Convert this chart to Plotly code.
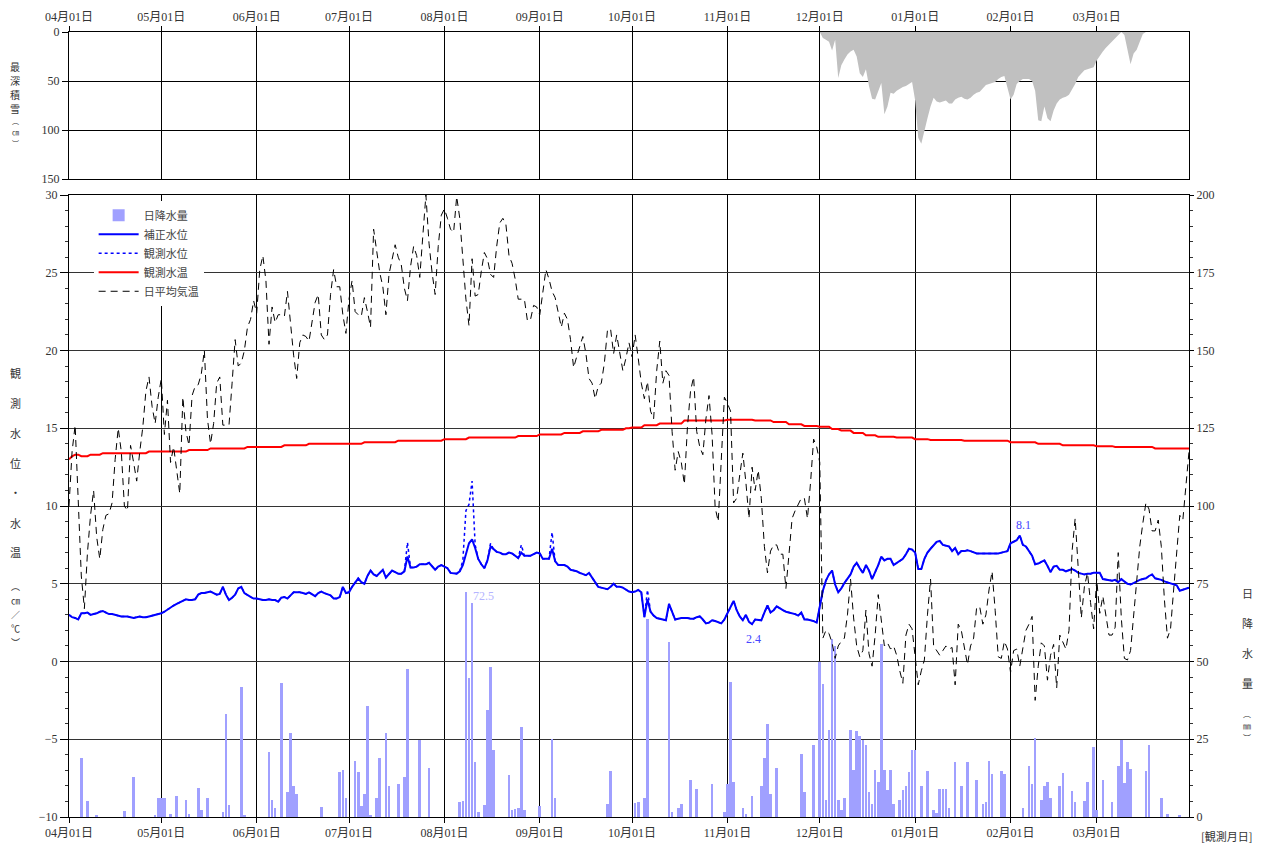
import pandas as pd
import plotly.graph_objects as go

START = "2021-04-01"
END = "2022-03-31"

# ---------------- daily mean air temperature (°C), Apr..Mar ----------------
air_temp = (
    # Apr
    [10.0, 13.5, 15.2, 10.0, 5.5, 3.4, 7.0, 9.4, 11.0, 8.0, 6.6, 8.5, 9.4, 9.5, 10.2,
     13.0, 15.0, 13.5, 10.0, 9.7, 13.9, 12.8, 11.6, 13.5, 15.1, 17.4, 18.3, 16.4, 15.3, 17.0]
    # May
    + [18.2, 14.6, 16.8, 12.8, 13.8, 12.3, 10.8, 17.0, 14.8, 13.9, 17.1, 17.7, 17.8, 18.5, 20.0,
       15.6, 14.0, 15.3, 17.9, 18.3, 15.2, 15.2, 15.2, 17.9, 20.7, 19.0, 19.2, 20.0, 21.5, 22.0, 23.2]
    # Jun
    + [22.4, 25.2, 26.1, 24.5, 20.4, 22.8, 21.8, 22.3, 22.3, 22.2, 23.8, 21.5, 19.7, 18.2, 20.5,
       21.0, 20.9, 20.6, 21.8, 23.1, 23.6, 21.0, 20.7, 21.0, 23.6, 25.2, 24.1, 24.1, 22.3, 21.1]
    # Jul
    + [23.3, 24.5, 22.5, 22.3, 22.2, 23.4, 22.5, 21.5, 27.8, 26.4, 25.0, 24.1, 22.3, 24.9, 25.8,
       26.8, 26.0, 25.5, 24.0, 23.2, 25.4, 26.7, 26.1, 24.7, 27.4, 30.0, 26.9, 25.0, 23.6, 26.7, 28.7]
    # Aug
    + [29.1, 28.5, 27.8, 27.6, 29.9, 28.5, 26.1, 23.3, 21.6, 25.9, 23.5, 23.6, 25.1, 26.3, 25.9,
       24.9, 24.7, 26.7, 28.2, 28.5, 28.1, 26.1, 25.6, 24.6, 23.3, 23.3, 23.3, 21.9, 22.0, 22.9, 22.8]
    # Sep
    + [22.3, 23.7, 25.2, 24.6, 23.8, 23.4, 22.5, 21.5, 22.4, 22.0, 20.7, 18.9, 19.6, 20.2, 20.9,
       19.8, 18.2, 17.9, 16.9, 17.7, 17.9, 19.2, 21.3, 21.4, 19.8, 21.0, 19.7, 18.7, 19.5, 20.5]
    # Oct
    + [19.6, 21.0, 19.5, 17.9, 16.9, 18.0, 16.1, 15.6, 18.7, 20.6, 17.9, 18.7, 18.4, 14.8, 12.3,
       13.5, 12.8, 11.4, 15.1, 17.4, 18.3, 14.8, 13.8, 13.3, 15.6, 17.1, 14.6, 9.9, 9.0, 13.3, 17.0]
    # Nov
    + [16.6, 16.1, 10.2, 10.5, 12.0, 13.4, 11.5, 9.2, 12.5, 11.0, 12.3, 10.5, 7.4, 5.7, 7.1,
       7.5, 7.5, 6.9, 6.9, 4.7, 6.9, 9.2, 9.7, 10.1, 10.5, 10.5, 9.2, 11.5, 14.3, 13.8]
    # Dec
    + [12.8, 1.5, 2.0, 1.8, 1.2, 0.2, 1.0, 1.3, 1.5, 3.0, 5.3, 2.8, 1.0, 0.3, 0.7,
       3.3, 0.5, -0.3, 1.7, 4.3, 2.8, 1.0, 1.2, 0.8, 1.0, 0.4, -0.6, -1.4, 1.7, 2.4, 2.1]
    # Jan
    + [0.2, -1.5, -0.6, 0.1, 3.0, 5.3, 1.0, 0.7, 0.4, 0.7, 1.0, 0.8, 0.9, -1.5, 2.4,
       2.0, 1.0, -0.2, 1.0, 1.5, 3.5, 3.5, 2.4, 3.0, 4.6, 5.8, 3.3, 0.3, 0.2, 1.3, 0.8]
    # Feb
    + [-0.7, 0.7, 0.8, -0.3, 1.0, 2.0, 2.4, 2.9, -2.5, -0.3, 1.2, 1.0, -1.2, 0.4, 1.1,
       -1.7, 1.7, 1.3, 0.8, 2.0, 7.1, 9.2, 6.1, 2.8, 4.8, 5.7, 3.8, 2.1]
    # Mar
    + [5.3, 3.1, 4.2, 2.8, 1.7, 1.7, 2.2, 7.0, 2.8, 0.2, 0.1, 0.7, 3.0, 5.1, 7.4,
       8.9, 10.2, 9.8, 8.4, 8.4, 9.1, 7.4, 4.0, 1.5, 2.1, 4.6, 6.9, 9.4, 9.1, 11.6, 13.5]
)

# ---------------- corrected water level (cm) ----------------
level_corr = (
    [3.0, 2.85, 2.8, 2.7, 3.1, 3.1, 3.15, 3.0, 3.05, 3.1, 3.2, 3.25, 3.15, 3.05, 3.05,
     3.0, 2.95, 2.9, 2.9, 2.9, 2.85, 2.8, 2.85, 2.9, 2.85, 2.85, 2.9, 2.95, 3.0, 3.05]
    + [3.1, 3.2, 3.35, 3.45, 3.6, 3.7, 3.8, 3.95, 4.0, 3.95, 3.95, 4.0, 4.3, 4.4, 4.4,
       4.45, 4.5, 4.4, 4.3, 4.35, 4.8, 4.3, 3.95, 4.1, 4.3, 4.7, 4.8, 4.4, 4.25, 4.15, 4.05]
    + [4.05, 4.0, 3.95, 3.95, 4.0, 3.95, 3.95, 3.85, 4.1, 4.15, 4.05, 4.25, 4.45, 4.45, 4.45,
       4.4, 4.35, 4.45, 4.3, 4.2, 4.4, 4.5, 4.4, 4.3, 4.25, 4.05, 4.05, 4.15, 4.8, 4.4]
    + [4.45, 4.8, 5.1, 5.35, 5.1, 5.0, 5.5, 5.85, 5.6, 5.5, 5.7, 5.9, 5.4, 5.6, 5.85,
       5.75, 5.65, 5.65, 5.8, 6.75, 6.05, 6.05, 6.1, 6.25, 6.25, 6.25, 6.35, 6.1, 5.9, 6.1, 6.2]
    + [6.1, 6.0, 5.7, 5.65, 5.65, 5.8, 6.2, 6.9, 7.6, 7.85, 7.3, 6.6, 6.25, 6.0, 6.5,
       7.4, 7.2, 7.05, 7.0, 6.9, 6.9, 7.0, 6.95, 6.8, 6.65, 7.0, 6.8, 6.8, 6.8, 6.9, 7.0]
    + [6.95, 6.6, 6.6, 6.6, 7.25, 6.45, 6.2, 6.2, 6.2, 6.1, 5.9, 5.85, 5.8, 5.7, 5.6,
       5.55, 5.7, 5.4, 5.1, 4.8, 4.75, 4.7, 4.65, 4.8, 5.0, 4.8, 4.8, 4.75, 4.6, 4.5]
    + [4.45, 4.5, 4.6, 4.45, 2.85, 4.0, 3.2, 2.95, 2.8, 2.75, 2.7, 2.65, 3.7, 3.2, 2.7,
       2.75, 2.8, 2.8, 2.8, 2.75, 2.75, 2.85, 2.9, 2.7, 2.45, 2.5, 2.65, 2.6, 2.5, 2.45, 2.7]
    + [3.1, 3.6, 3.9, 3.3, 2.9, 2.65, 3.0, 2.55, 2.4, 2.7, 2.65, 2.65, 3.15, 3.6, 3.15,
       3.3, 3.55, 3.4, 3.3, 3.2, 3.15, 3.1, 3.05, 2.95, 3.15, 2.7, 2.7, 2.65, 2.6, 2.5]
    + [3.5, 4.55, 5.2, 5.6, 5.85, 4.95, 4.45, 4.7, 5.05, 5.3, 5.6, 6.1, 6.35, 6.0, 5.7,
       6.2, 5.85, 5.3, 5.7, 6.2, 6.75, 6.5, 6.6, 6.6, 6.2, 6.35, 6.5, 6.6, 6.9, 7.25, 7.2]
    + [7.0, 5.95, 5.95, 6.6, 7.0, 7.25, 7.45, 7.7, 7.75, 7.5, 7.45, 7.4, 7.1, 7.3, 6.9,
       7.1, 7.1, 7.15, 7.1, 7.0, 6.95, 6.95, 6.95, 6.95, 6.95, 6.95, 6.95, 6.95, 7.0, 7.05, 7.1]
    + [7.6, 7.7, 7.8, 8.1, 7.5, 7.4, 7.1, 6.8, 6.25, 6.3, 6.4, 6.5, 6.15, 5.75, 6.1,
       6.15, 5.9, 5.9, 5.8, 5.9, 5.95, 5.85, 5.7, 5.65, 5.6, 5.65, 5.65, 5.7]
    + [5.7, 5.7, 5.3, 5.25, 5.2, 5.2, 5.25, 5.1, 5.3, 5.15, 5.0, 4.95, 5.05, 5.2, 5.25,
       5.3, 5.35, 5.5, 5.6, 5.35, 5.3, 5.25, 5.15, 5.1, 5.0, 4.95, 4.9, 4.55, 4.6, 4.7, 4.75]
)

# observed water level differs from the corrected one only on these days
obs_level_dates = ["2021-07-20", "2021-08-07", "2021-08-08", "2021-08-09", "2021-08-10",
                   "2021-08-11", "2021-08-16", "2021-08-26", "2021-09-05", "2021-10-06"]
obs_level_values = [7.65, 6.5, 9.7, 10.1, 11.6, 7.5, 7.6, 7.5, 8.3, 4.6]

# ---------------- observed water temperature (°C) ----------------
water_temp = (
    [13.0, 13.2, 13.3, 13.3, 13.2, 13.2, 13.2, 13.3, 13.3, 13.3, 13.3, 13.4, 13.4, 13.4, 13.4,
     13.4, 13.4, 13.4, 13.4, 13.4, 13.4, 13.4, 13.4, 13.4, 13.4, 13.4, 13.5, 13.5, 13.5, 13.5]
    + [13.5, 13.5, 13.5, 13.5, 13.5, 13.5, 13.5, 13.5, 13.5, 13.6, 13.6, 13.6, 13.6, 13.6, 13.6,
       13.6, 13.7, 13.7, 13.7, 13.7, 13.7, 13.7, 13.7, 13.7, 13.7, 13.7, 13.7, 13.7, 13.8, 13.8, 13.8]
    + [13.8, 13.8, 13.8, 13.8, 13.8, 13.8, 13.8, 13.8, 13.8, 13.9, 13.9, 13.9, 13.9, 13.9, 13.9,
       13.9, 13.9, 14.0, 14.0, 14.0, 14.0, 14.0, 14.0, 14.0, 14.0, 14.0, 14.0, 14.0, 14.0, 14.0]
    + [14.0, 14.0, 14.0, 14.0, 14.0, 14.1, 14.1, 14.1, 14.1, 14.1, 14.1, 14.1, 14.1, 14.1, 14.1,
       14.1, 14.2, 14.2, 14.2, 14.2, 14.2, 14.2, 14.2, 14.2, 14.2, 14.2, 14.2, 14.2, 14.2, 14.2, 14.2]
    + [14.3, 14.3, 14.3, 14.3, 14.3, 14.3, 14.3, 14.3, 14.4, 14.4, 14.4, 14.4, 14.4, 14.4, 14.4,
       14.4, 14.4, 14.4, 14.4, 14.4, 14.4, 14.4, 14.4, 14.4, 14.5, 14.5, 14.5, 14.5, 14.5, 14.5, 14.5]
    + [14.6, 14.6, 14.6, 14.6, 14.6, 14.6, 14.6, 14.6, 14.7, 14.7, 14.7, 14.7, 14.7, 14.7, 14.8,
       14.8, 14.8, 14.8, 14.8, 14.8, 14.9, 14.9, 14.9, 14.9, 14.9, 14.9, 14.9, 14.9, 15.0, 15.0]
    + [15.05, 15.05, 15.05, 15.05, 15.2, 15.2, 15.2, 15.2, 15.2, 15.3, 15.3, 15.3, 15.3, 15.3, 15.3,
       15.3, 15.3, 15.5, 15.5, 15.5, 15.5, 15.5, 15.5, 15.5, 15.5, 15.5, 15.5, 15.5, 15.5, 15.5, 15.5]
    + [15.55, 15.55, 15.55, 15.55, 15.55, 15.55, 15.55, 15.55, 15.55, 15.5, 15.5, 15.5, 15.5, 15.5, 15.5,
       15.4, 15.4, 15.4, 15.4, 15.4, 15.25, 15.25, 15.25, 15.25, 15.25, 15.15, 15.15, 15.15, 15.15, 15.15]
    + [15.1, 15.1, 15.1, 15.1, 14.95, 14.95, 14.95, 14.85, 14.85, 14.85, 14.85, 14.7, 14.7, 14.7, 14.7,
       14.55, 14.55, 14.55, 14.55, 14.45, 14.45, 14.45, 14.45, 14.45, 14.45, 14.4, 14.4, 14.4, 14.4, 14.4, 14.4]
    + [14.3, 14.3, 14.3, 14.3, 14.3, 14.25, 14.25, 14.25, 14.25, 14.25, 14.25, 14.25, 14.25, 14.25, 14.25,
       14.25, 14.2, 14.2, 14.2, 14.2, 14.2, 14.2, 14.2, 14.2, 14.2, 14.2, 14.2, 14.2, 14.2, 14.2, 14.2]
    + [14.1, 14.1, 14.1, 14.1, 14.1, 14.1, 14.1, 14.1, 14.1, 14.0, 14.0, 14.0, 14.0, 14.0, 14.0,
       14.0, 14.0, 13.9, 13.9, 13.9, 13.9, 13.9, 13.9, 13.9, 13.9, 13.9, 13.9, 13.9]
    + [13.85, 13.85, 13.85, 13.85, 13.85, 13.85, 13.8, 13.8, 13.8, 13.8, 13.8, 13.8, 13.8, 13.8, 13.8,
       13.8, 13.8, 13.8, 13.8, 13.7, 13.7, 13.7, 13.7, 13.7, 13.7, 13.7, 13.7, 13.7, 13.7, 13.7, 13.7]
)

# ---------------- daily precipitation (mm) ----------------
precip_mm = (
    [0, 0, 0, 0, 19, 0, 5, 0, 0, 0.7, 0, 0, 0, 0, 0, 0, 0, 0, 2, 0, 0, 12.8, 0, 0, 0, 0, 0, 0, 0.8, 6.2]
    + [6.2, 6, 0, 1, 0, 6.8, 0, 0, 5.5, 1, 0, 0, 9.4, 2.3, 0, 6.2, 0, 0, 0, 0,
       1.7, 33, 3.9, 0, 0, 0, 41.8, 0.4, 0, 0, 0]
    + [0, 0, 0, 0, 21, 5.5, 3, 0, 43, 0, 8, 27, 10, 7.4, 0, 0, 0, 0, 0, 0,
       0, 3.3, 0, 0, 0, 0, 0, 14.5, 15.1, 6.2]
    + [0, 0, 18, 14.5, 3.6, 7.4, 35.7, 0.4, 0, 6.2, 19, 0, 27, 10, 0, 0, 10.7, 0, 12.8, 47.5,
       0, 0, 0, 24.8, 0, 0, 15.8, 0, 0, 0, 0]
    + [0, 0, 0, 0, 0, 4.9, 5.1, 72.5, 44.7, 68.8, 17.7, 1.7, 0, 4, 34.4, 48.1, 21.6, 0, 0, 0,
       0, 13.6, 2.3, 2.5, 3, 28.9, 2.3, 0, 0, 0, 0]
    + [3.6, 0, 0, 0, 25, 6.2, 0, 0, 0, 0, 0, 0, 0, 0, 0, 0, 0, 0, 0, 0,
       0, 0, 4.2, 14.8, 0, 0, 0, 0, 0, 0]
    + [0, 4.5, 4.9, 0, 6.2, 63.7, 0, 0, 0, 0, 0, 0, 56.2, 1.7, 0, 3, 4.2, 0, 0, 12,
       0, 9, 0, 0, 0, 0, 10.7, 0, 0, 0, 1.7]
    + [10.7, 43.4, 11.3, 0, 0, 3, 1, 0, 6.8, 0, 0, 10, 19, 29.9, 7.4, 0, 15.8, 0, 0, 0,
       0, 0, 0, 0, 20.3, 8.1, 0, 0, 23.1, 0]
    + [50, 42.7, 5.5, 28, 57.3, 55, 5.5, 2.3, 6.2, 0, 28, 15.1, 27.6, 26.1, 24.8, 23.1, 8.1, 4.2, 15.1, 11.3,
       55.6, 15.1, 8.7, 15.1, 4.2, 0, 5.5, 8.7, 10, 14.5, 21.6]
    + [21.6, 0, 10, 0, 14.8, 0, 2.3, 1.3, 9, 9, 9, 3, 0, 17.7, 0, 10, 0, 17.7, 0, 0,
       12, 0, 4.2, 4.9, 18.1, 13.9, 0, 0, 14.8, 13.9, 0]
    + [0, 0, 0, 0, 3, 0, 16.4, 10.7, 25.4, 0, 5.5, 10, 11.3, 6.2, 0, 0, 10, 14.1, 0, 0,
       8.3, 4.9, 0, 0, 5.1, 11.3, 0, 22.6]
    + [2.3, 0, 12, 0, 0, 4.9, 0, 16.4, 24.8, 11, 17.7, 15.4, 0, 0, 0, 0, 14.8, 23.1, 0, 0,
       0, 6.2, 0, 1, 0, 0, 0, 0.6, 0, 0, 0]
)

# ---------------- maximum snow depth (cm), from Dec 1 ----------------
snow_start = "2021-12-01"
snow_cm = (
    [0, 6, 8, 10, 19, 8, 47, 34, 28, 23, 20, 18, 25, 42, 46, 38, 55, 68, 69, 60,
     52, 84, 76, 62, 63, 60, 58, 56, 55, 53, 51]
    + [70, 108, 114, 100, 88, 76, 67, 71, 72, 71, 70, 73, 73, 69, 67, 66, 68, 69, 67, 64,
       62, 61, 57, 54, 53, 52, 51, 48, 46, 45, 58]
    + [69, 64, 53, 50, 48, 48, 48, 50, 60, 90, 91, 76, 88, 91, 80, 73, 69, 67, 66, 64,
       59, 53, 46, 42, 39, 38, 37, 36]
    + [29, 24, 20, 16, 13, 10, 7, 4, 0, 3, 20, 33, 22, 18, 10, 2, 0]
)

left_title = ["観", "測", "水", "位", "・", "水", "温", "︵", "㎝", "／", "℃", "︶"]
top_title = ["最", "深", "積", "雪", "︵", "㎝", "︶"]
right_title = ["日", "降", "水", "量", "︵", "㎜", "︶"]
small_glyphs = {"︵", "︶", "㎝", "㎜", "／", "℃"}

# ------------------------------------------------------------------
dates = pd.date_range(START, periods=len(air_temp), freq="D")
snow_dates = pd.date_range(snow_start, periods=len(snow_cm), freq="D")
level_obs = pd.Series(level_corr, index=dates)
level_obs.loc[pd.to_datetime(obs_level_dates)] = obs_level_values

TICKFONT = dict(family="Liberation Serif, Noto Sans CJK JP", size=12, color="#333333")
CJK = "Noto Sans CJK JP"
DAY_MS = 86400000

fig = go.Figure()

# snow depth (top panel)
fig.add_trace(go.Scatter(
    x=snow_dates, y=snow_cm, mode="lines", fill="tozeroy",
    fillcolor="#c0c0c0", line=dict(width=0, color="#c0c0c0"),
    showlegend=False, xaxis="x", yaxis="y", hoverinfo="skip"))

# precipitation bars (right axis, base layer)
fig.add_trace(go.Bar(
    x=dates, y=precip_mm, name="日降水量", marker=dict(color="#a0a0ff", line=dict(width=0)),
    width=0.85 * DAY_MS, xaxis="x2", yaxis="y2", legendrank=1))

# lines (left axis, overlay)
fig.add_trace(go.Scatter(
    x=dates, y=level_obs.values, name="観測水位", mode="lines",
    line=dict(color="#0000ff", width=1.5, dash="dot"), xaxis="x2", yaxis="y3", legendrank=3))
fig.add_trace(go.Scatter(
    x=dates, y=level_corr, name="補正水位", mode="lines",
    line=dict(color="#0000ff", width=2), xaxis="x2", yaxis="y3", legendrank=2))
fig.add_trace(go.Scatter(
    x=dates, y=water_temp, name="観測水温", mode="lines",
    line=dict(color="#ff0000", width=2), xaxis="x2", yaxis="y3", legendrank=4))
fig.add_trace(go.Scatter(
    x=dates, y=air_temp, name="日平均気温", mode="lines",
    line=dict(color="#000000", width=1, dash="7px,5px"), xaxis="x2", yaxis="y3", legendrank=5))

# page body has an 8px margin: figure occupies page px 8..1262 x 8..844
OFF = 8
PH = 785.0  # plot-area height (page px 32..817)
PW = 1120.0  # plot-area width (page px 69..1189)
top_dom = [1 - 147 / PH, 1]
low_dom = [0, 622 / PH]

xcommon = dict(
    range=[START, END], type="date", tickformat="%m月%d日", dtick="M1", tick0=START,
    ticks="outside", ticklen=5, tickcolor="#000000", tickfont=TICKFONT,
    showgrid=True, gridcolor="#000000", gridwidth=1, automargin=False,
    showline=True, linecolor="#000000", linewidth=1, mirror=True, zeroline=False,
)

fig.update_layout(
    width=1270 - 2 * OFF, height=852 - 2 * OFF,
    margin=dict(l=69 - OFF, r=1270 - OFF - 1189, t=32 - OFF, b=852 - OFF - 817, autoexpand=False),
    paper_bgcolor="white", plot_bgcolor="white",
    bargap=0,
    xaxis=dict(xcommon, domain=[0, 1], anchor="y", side="top"),
    yaxis=dict(domain=top_dom, range=[150, 0], anchor="x", tickvals=[0, 50, 100, 150],
               ticks="outside", ticklen=6, tickcolor="#000000", tickfont=TICKFONT,
               showgrid=True, gridcolor="#000000", gridwidth=1, automargin=False,
               showline=True, linecolor="#000000", mirror=True, zeroline=False),
    xaxis2=dict(xcommon, domain=[0, 1], anchor="y2", side="bottom"),
    yaxis2=dict(domain=low_dom, range=[0, 200], anchor="x2", side="right",
                tickvals=list(range(0, 201, 25)), ticks="outside", ticklen=4, tickcolor="#000000",
                tickfont=TICKFONT, showgrid=False, zeroline=False, automargin=False,
                showline=True, linecolor="#000000",
                minor=dict(dtick=5, ticks="outside", ticklen=3, tickcolor="#333333", showgrid=False)),
    yaxis3=dict(range=[-10, 30], anchor="x2", overlaying="y2", side="left",
                tickvals=list(range(-10, 31, 5)), ticks="outside", ticklen=8, tickcolor="#000000",
                tickfont=TICKFONT, showgrid=True, gridcolor="#333333", gridwidth=1,
                zeroline=False, showline=True, linecolor="#000000", automargin=False,
                minor=dict(dtick=1, ticks="outside", ticklen=3, tickcolor="#333333", showgrid=False)),
    legend=dict(x=0.022, y=0.785, xanchor="left", yanchor="top", bgcolor="white",
                borderwidth=0, itemwidth=40, tracegroupgap=0,
                font=dict(family=CJK, size=11, color="#444444")),
    showlegend=True,
)

annotations = []

# value labels: max precipitation, max / min corrected level
pmax_i = max(range(len(precip_mm)), key=lambda i: precip_mm[i])
annotations.append(dict(x=dates[pmax_i], y=precip_mm[pmax_i], xref="x2", yref="y2",
                        text=f"{precip_mm[pmax_i]:.1f}", showarrow=False, xanchor="left",
                        yanchor="middle", xshift=5, yshift=-4,
                        font=dict(family="Liberation Serif", size=12, color="#b4b4ff")))
lmax_i = max(range(len(level_corr)), key=lambda i: level_corr[i])
annotations.append(dict(x=dates[lmax_i], y=level_corr[lmax_i], xref="x2", yref="y3",
                        text=f"{level_corr[lmax_i]:.1f}", showarrow=False, xanchor="center",
                        yanchor="bottom", xshift=4, yshift=2,
                        font=dict(family="Liberation Serif", size=12, color="#4646ff")))
lmin_i = min(range(len(level_corr)), key=lambda i: level_corr[i])
annotations.append(dict(x=dates[lmin_i], y=level_corr[lmin_i], xref="x2", yref="y3",
                        text=f"{level_corr[lmin_i]:.1f}", showarrow=False, xanchor="center",
                        yanchor="top", xshift=1, yshift=-6,
                        font=dict(family="Liberation Serif", size=12, color="#4646ff")))


def px2paper(px, py):
    return (px - 69) / PW, (817 - py) / PH


def vertical_title(chars, px, pys, big=11, small=8):
    for ch, py in zip(chars, pys):
        xp, yp = px2paper(px, py)
        annotations.append(dict(x=xp, y=yp, xref="paper", yref="paper", text=ch,
                                showarrow=False, xanchor="center", yanchor="middle",
                                font=dict(family=CJK, size=small if ch in small_glyphs else big,
                                          color="#333333")))


vertical_title(top_title, 15, [67, 81, 95, 109, 121, 132, 143], big=10, small=7)
vertical_title(left_title, 15, [373, 403, 433, 463, 492, 523, 552, 586, 600, 614, 628, 642], small=9)
vertical_title(right_title, 1247, [593, 623, 653, 683, 713, 725, 737])

xb, yb = px2paper(1226, 836)
annotations.append(dict(x=xb, y=yb, xref="paper", yref="paper", text="[観測月日]",
                        showarrow=False, xanchor="center", yanchor="middle",
                        font=dict(family=CJK, size=11, color="#333333")))

fig.update_layout(annotations=annotations)
fig.write_html("out.html")
